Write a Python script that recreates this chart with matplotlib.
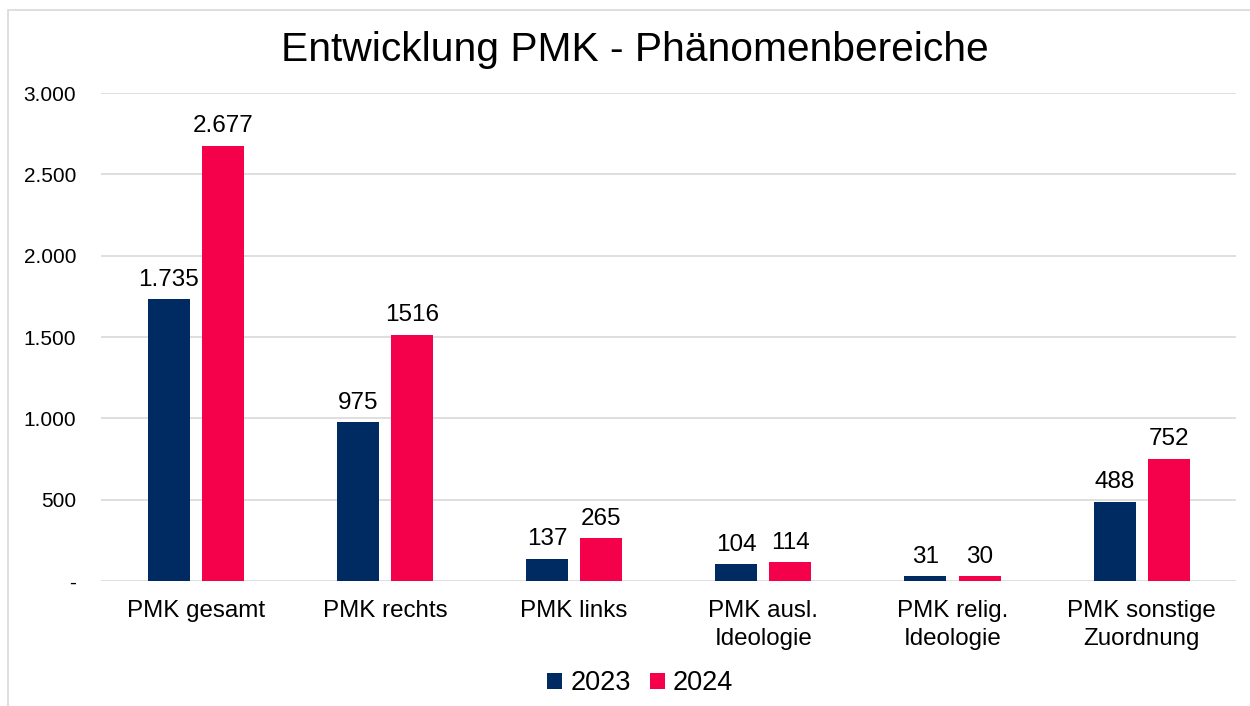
import matplotlib.pyplot as plt
import numpy as np
from matplotlib.ticker import FuncFormatter

plt.rcParams['font.family'] = ['Liberation Sans', 'DejaVu Sans']

# Daten
categories = ["PMK gesamt", "PMK rechts", "PMK links", "PMK ausl.\nIdeologie",
              "PMK relig.\nIdeologie", "PMK sonstige\nZuordnung"]
values_2023 = [1735, 975, 137, 104, 31, 488]
values_2024 = [2677, 1516, 265, 114, 30, 752]
labels_2023 = ["1.735", "975", "137", "104", "31", "488"]
labels_2024 = ["2.677", "1516", "265", "114", "30", "752"]
years = ["2023", "2024"]

NAVY = "#002b62"
RED = "#f5004a"

fig = plt.figure(figsize=(12.5, 7.06), dpi=100)
ax = fig.add_axes([0.081, 0.177, 0.908, 0.691])

x = np.arange(len(categories))
w = 0.222
off = 0.143
b1 = ax.bar(x - off, values_2023, w, color=NAVY, label=years[0], zorder=3)
b2 = ax.bar(x + off, values_2024, w, color=RED, label=years[1], zorder=3)

ax.bar_label(b1, labels=labels_2023, padding=6, fontsize=17.5)
ax.bar_label(b2, labels=labels_2024, padding=6, fontsize=17.5)

ax.set_xlim(-0.5, len(categories) - 0.5)
ax.set_ylim(0, 3000)
ax.set_yticks(range(0, 3001, 500))


def fmt(v, pos):
    if v == 0:
        return "-"
    return f"{int(v):,}".replace(",", ".")


ax.yaxis.set_major_formatter(FuncFormatter(fmt))
ax.set_xticks(x)
ax.set_xticklabels(categories, fontsize=17.4, linespacing=1.35)
ax.tick_params(axis="y", length=0, labelsize=15, pad=18)
ax.tick_params(axis="x", length=0, pad=14)
ax.grid(axis="y", color="#d9d9d9", linewidth=1.2, zorder=0)
for s in ax.spines.values():
    s.set_visible(False)

fig.text(0.508, 0.929, "Entwicklung PMK - Phänomenbereiche", ha="center", va="center", fontsize=29.3)

ax.legend(loc="center", bbox_to_anchor=(0.512, 0.032), bbox_transform=fig.transFigure,
          ncol=2, frameon=False, fontsize=19.5, handlelength=0.55, handleheight=0.55,
          handletextpad=0.3, columnspacing=0.7)

# Rahmen
fig.add_artist(plt.Rectangle((0.0065, -0.02), 1.1, 1.006, transform=fig.transFigure,
                             fill=False, edgecolor="#d9d9d9", linewidth=1.2))

fig.savefig("out.png", dpi=100)
